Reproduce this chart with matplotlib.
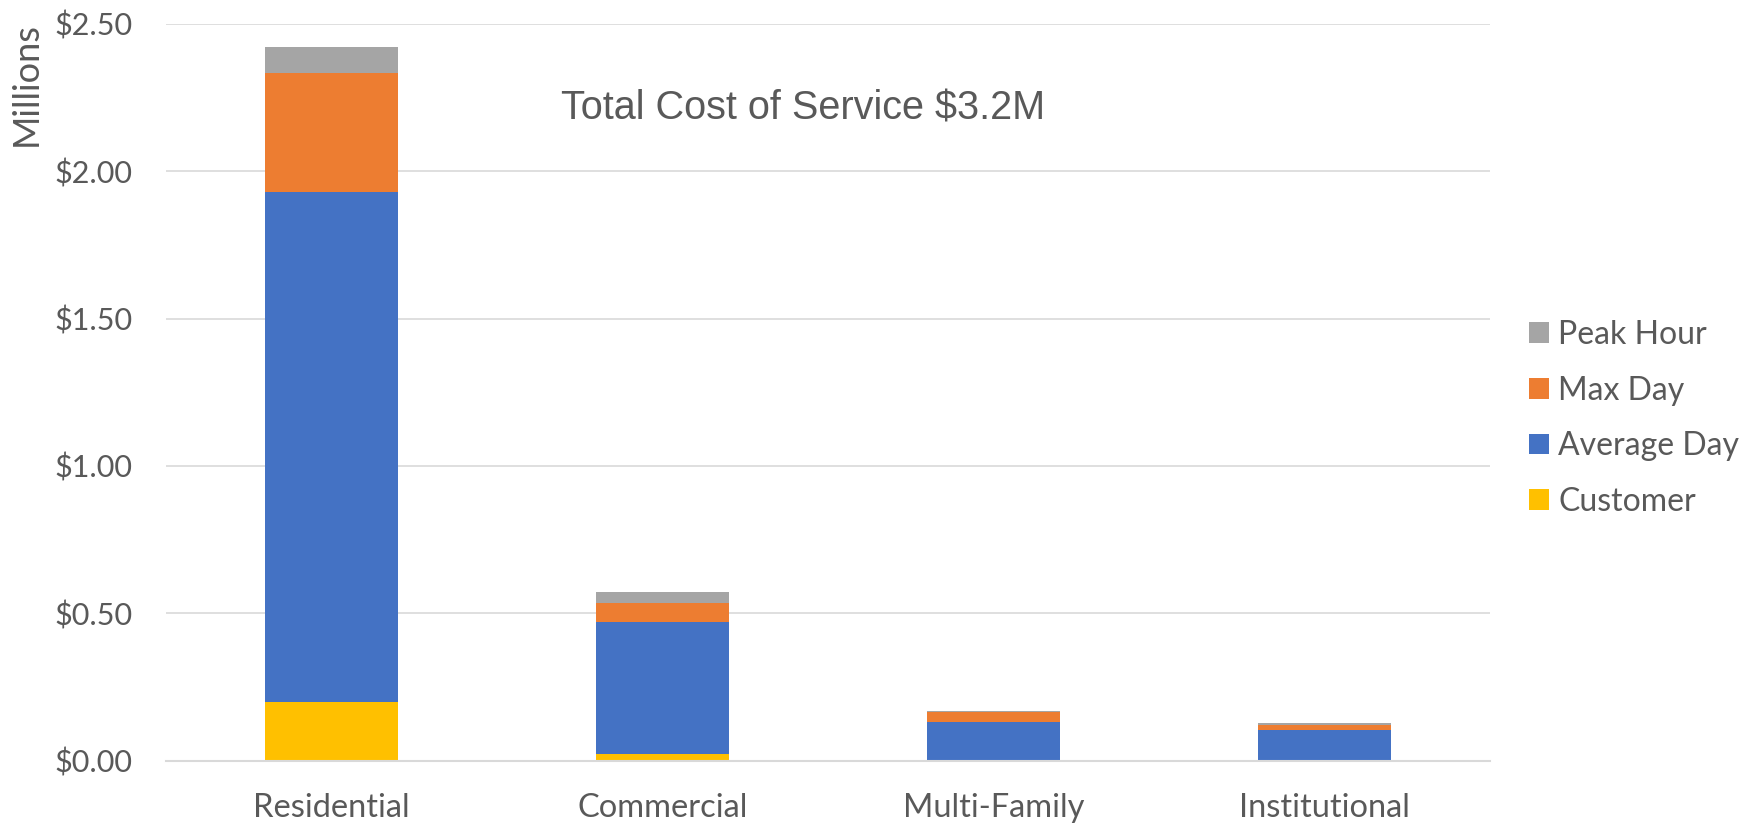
import matplotlib.pyplot as plt
import numpy as np

plt.switch_backend('Agg')

# Cost of service by customer class, in millions of dollars
categories = ['Residential', 'Commercial', 'Multi-Family', 'Institutional']
customer = [0.198, 0.021, 0.0, 0.0]
average_day = [1.732, 0.450, 0.132, 0.105]
max_day = [0.402, 0.063, 0.032, 0.015]
peak_hour = [0.089, 0.037, 0.004, 0.009]
y_ticks = [0.0, 0.5, 1.0, 1.5, 2.0, 2.5]

COLORS = {
    'customer': '#FFC000',
    'average': '#4472C4',
    'max': '#ED7D31',
    'peak': '#A5A5A5',
    'text': '#595959',
    'grid': '#D9D9D9',
}

plt.rcParams['font.family'] = ['Lato', 'DejaVu Sans']

fig = plt.figure(figsize=(17.59, 8.25), dpi=100)
ax = fig.add_axes([166 / 1759, 1 - 760.6 / 825, (1490 - 166) / 1759, (760.6 - 24) / 825])

x = np.arange(len(categories))
width = 0.4
series = [
    ('Customer', customer, COLORS['customer']),
    ('Average Day', average_day, COLORS['average']),
    ('Max Day', max_day, COLORS['max']),
    ('Peak Hour', peak_hour, COLORS['peak']),
]

bottom = np.zeros(len(categories))
handles = []
for name, vals, color in series:
    bars = ax.bar(x, vals, width, bottom=bottom, color=color, label=name, zorder=3)
    handles.append(bars)
    bottom += np.array(vals)

ax.set_xlim(-0.5, 3.5)
ax.set_ylim(0, 2.5)
ax.set_yticks(y_ticks)
ax.set_yticklabels([f'${v:.2f}' for v in y_ticks])
ax.set_xticks(x)
ax.set_xticklabels(categories)

ax.grid(True, axis='y', color=COLORS['grid'], linewidth=1.2, zorder=0)
for side in ['top', 'right', 'left']:
    ax.spines[side].set_visible(False)
ax.spines['bottom'].set_color(COLORS['grid'])
ax.spines['bottom'].set_linewidth(1.5)
ax.spines['bottom'].set_zorder(4)

ax.tick_params(axis='both', length=0, colors=COLORS['text'])
ax.tick_params(axis='y', pad=24, labelsize=22)
ax.tick_params(axis='x', pad=23, labelsize=23.5)

fig.text(26 / 1759, 1 - 84 / 825, 'Millions', rotation=90, ha='center', va='center',
         fontsize=26, color=COLORS['text'])

fig.text(561 / 1759, 1 - 108 / 825, 'Total Cost of Service $3.2M', ha='left', va='center',
         fontsize=28.5, color=COLORS['text'], family='Liberation Sans')

leg = fig.legend(handles[::-1], [s[0] for s in series][::-1], loc='center left',
                 bbox_to_anchor=(1529 / 1759, 1 - 418.5 / 825), frameon=False,
                 fontsize=23, handlelength=0.63, handleheight=0.63, handletextpad=0.28,
                 labelspacing=0.80, borderpad=0, borderaxespad=0)
for t in leg.get_texts():
    t.set_color(COLORS['text'])

fig.savefig('out.png', dpi=100, facecolor='white')
